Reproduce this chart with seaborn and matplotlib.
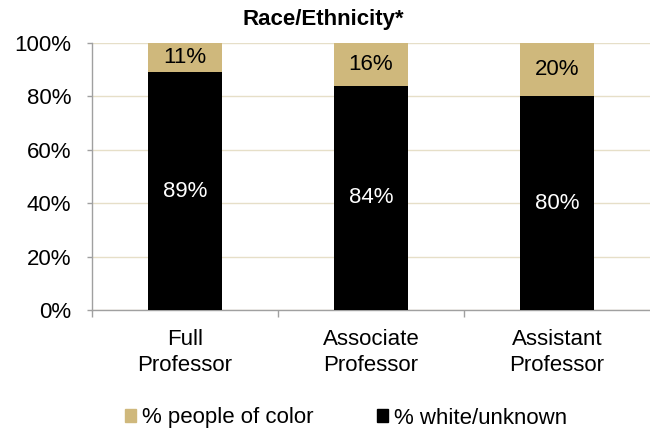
import matplotlib as mpl
import matplotlib.pyplot as plt
import pandas as pd
import seaborn as sns

sns.set_theme(style="white")
plt.rcParams["font.family"] = ["Liberation Sans", "DejaVu Sans"]
plt.rcParams["text.color"] = "black"
plt.rcParams["xtick.labelcolor"] = "black"
plt.rcParams["ytick.labelcolor"] = "black"

ranks = ["Full\nProfessor", "Associate\nProfessor", "Assistant\nProfessor"]
pct_color = [11, 16, 20]
pct_white = [89, 84, 80]

GOLD = "#CFB87C"
GRID = "#E6DFC8"
AXIS = "#A0A0A0"
FS = 16

df = pd.DataFrame({"rank": ranks, "color": pct_color, "white": pct_white})
df["total"] = df["color"] + df["white"]

fig = plt.figure(figsize=(6.5, 4.34), dpi=100)
ax = fig.add_axes([92 / 650, 1 - 310 / 434, 558 / 650, 267 / 434])

# stacked bars: full height in gold, white/unknown part in black over it
sns.barplot(data=df, x="rank", y="total", color=GOLD, width=0.4,
            saturation=1, linewidth=0, ax=ax, zorder=3)
sns.barplot(data=df, x="rank", y="white", color="black", width=0.4,
            saturation=1, linewidth=0, ax=ax, zorder=3)

for i, (c, w) in enumerate(zip(pct_color, pct_white)):
    ax.text(i, w / 2, f"{w}%", ha="center", va="center", color="white",
            fontsize=FS, zorder=4)
    ax.text(i, w + c / 2, f"{c}%", ha="center", va="center", color="black",
            fontsize=FS, zorder=4)

ax.set_xlim(-0.5, 2.5)
ax.set_ylim(0, 100)
ax.set_yticks(range(0, 101, 20))
ax.set_yticklabels([f"{v}%" for v in range(0, 101, 20)], fontsize=FS)
ax.yaxis.grid(True, color=GRID, linewidth=1, zorder=0)
ax.set_xlabel("")
ax.set_ylabel("")
ax.tick_params(axis="x", labelsize=FS, length=0, pad=14)
for lab in ax.get_xticklabels():
    lab.set_linespacing(1.3)
ax.tick_params(axis="y", left=True, length=3.6, width=1, color=AXIS, pad=11.5)

# small ticks between the categories
ax.set_xticks([-0.5, 0.5, 1.5], minor=True)
ax.tick_params(axis="x", which="minor", bottom=True, length=5, width=1,
               color=AXIS)

for s in ["top", "right"]:
    ax.spines[s].set_visible(False)
for s in ["left", "bottom"]:
    ax.spines[s].set_color(AXIS)
    ax.spines[s].set_linewidth(1)

fig.text(323 / 650, 1 - 20 / 434, "Race/Ethnicity*", fontsize=FS,
         fontweight="bold", ha="center", va="center")

handles = [mpl.patches.Patch(color=GOLD, label="% people of color"),
           mpl.patches.Patch(color="black", label="% white/unknown")]
fig.legend(handles=handles, loc="center", bbox_to_anchor=(346 / 650, 1 - 418 / 434),
           ncol=2, frameon=False, fontsize=FS, handlelength=0.5,
           handleheight=0.5, handletextpad=0.27, columnspacing=2.86,
           borderpad=0, borderaxespad=0)

plt.savefig("out.png", dpi=100)
